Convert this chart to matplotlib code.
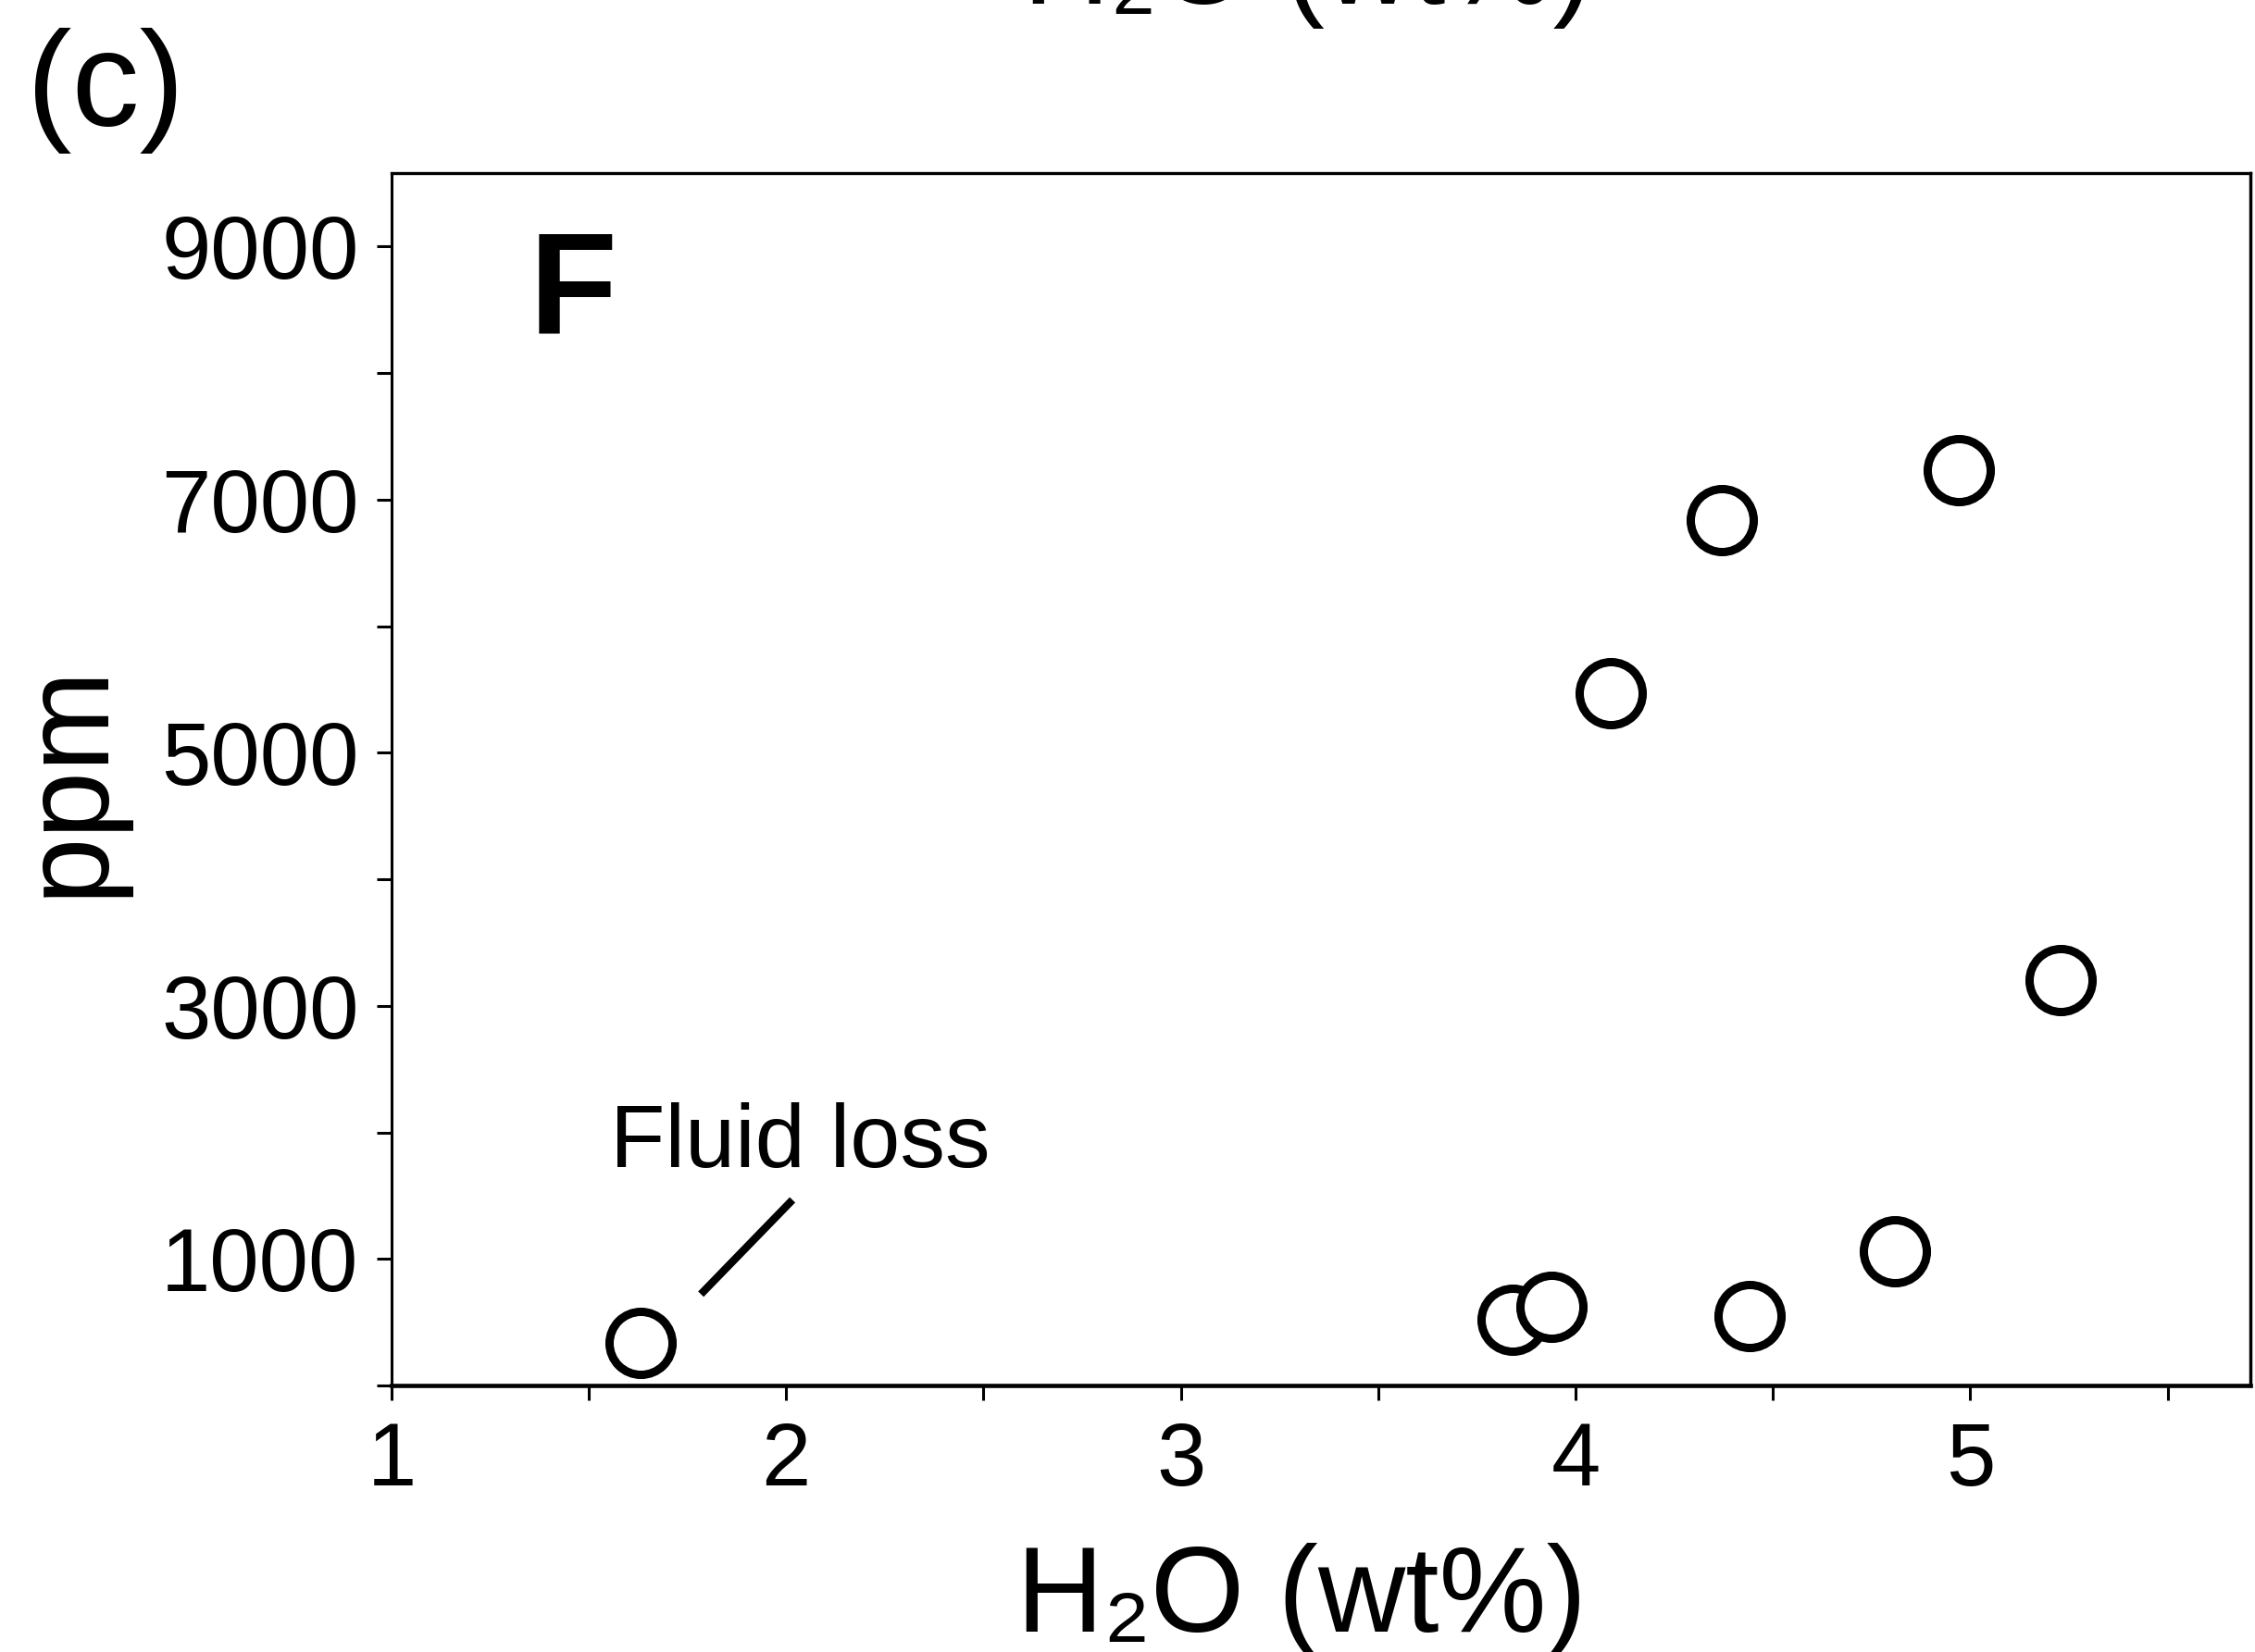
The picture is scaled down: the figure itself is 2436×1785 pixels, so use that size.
import matplotlib
matplotlib.use('Agg')
import matplotlib.pyplot as plt
from matplotlib.ticker import MultipleLocator

# values
h2o = [1.63, 3.84, 3.94, 4.44, 4.81, 4.09, 4.37, 4.97, 5.23]
ppm = [340, 520, 620, 550, 1060, 5470, 6840, 7230, 3200]
x_ticks = [1, 2, 3, 4, 5]
y_ticks = [1000, 3000, 5000, 7000, 9000]
fluid_line_x = [1.784, 2.016]
fluid_line_y = [722, 1467]

FONT = ['Liberation Sans', 'DejaVu Sans']
plt.rcParams['font.family'] = FONT

fig = plt.figure(figsize=(24.36, 17.85), dpi=100, facecolor='white')
ax = fig.add_axes([0.1736, 0.1613, 0.8244, 0.7339])

ax.plot(h2o, ppm, 'o', ls='none', ms=49, mew=6.5, mfc='white', mec='black',
        clip_on=False, zorder=3)
ax.plot(fluid_line_x, fluid_line_y, color='black', lw=6, solid_capstyle='butt')
ax.text(1.554, 1730, 'Fluid loss', fontsize=70, ha='left', va='baseline')
ax.text(0.074, 0.868, 'F', transform=ax.transAxes, fontsize=112,
        fontweight='bold', ha='left', va='baseline')

ax.set_xlim(1, 5.71)
ax.set_ylim(0, 9580)
ax.set_xticks(x_ticks)
ax.set_yticks(y_ticks)
ax.xaxis.set_minor_locator(MultipleLocator(0.5))
ax.yaxis.set_minor_locator(MultipleLocator(1000))
ax.tick_params(which='both', direction='out', length=11.5, width=2.2,
               labelsize=69, color='black')
ax.tick_params(axis='x', which='major', pad=16)
ax.tick_params(axis='y', which='major', pad=14)

for side, lw in [('left', 2.2), ('top', 2.4), ('right', 2.5), ('bottom', 3.3)]:
    ax.spines[side].set_linewidth(lw)

# axis labels placed directly on the figure
fig.text(0.577, 0.0125, 'H₂O (wt%)', fontsize=94, ha='center', va='baseline')
fig.text(0.0452, 0.528, 'ppm', fontsize=94, rotation=90, rotation_mode='anchor',
         ha='center', va='baseline')
# label of the panel above, cut by the top edge (as in the reference)
fig.text(0.58, 0.9978, 'H₂O (wt%)', fontsize=94, ha='center', va='baseline')
fig.text(0.012, 0.924, '(c)', fontsize=105, ha='left', va='baseline')

fig.savefig('out.png', dpi=100, facecolor='white')
